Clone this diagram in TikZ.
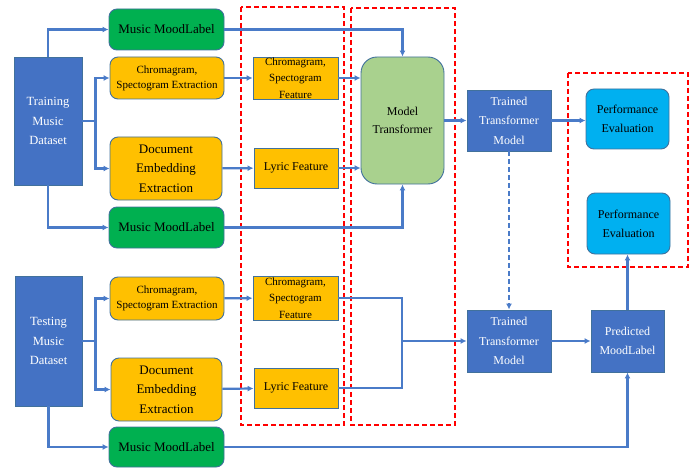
\documentclass[tikz,border=0pt]{standalone}
\usepackage{fontspec}
\setmainfont{Liberation Serif}
\usepackage{xcolor}
\definecolor{dsblue}{HTML}{4472C4}
\definecolor{lnblue}{HTML}{4A7BC8}
\definecolor{edgeblue}{HTML}{41719C}
\definecolor{moodgreen}{HTML}{00B050}
\definecolor{featorange}{HTML}{FFC000}
\definecolor{modelgreen}{HTML}{A9D18E}
\definecolor{evalcyan}{HTML}{00B0F0}
\usetikzlibrary{arrows.meta}

\begin{document}
\begin{tikzpicture}[x=1pt,y=-1pt,
    box/.style={draw=edgeblue,line width=0.9pt,inner sep=0pt,align=center},
    dset/.style={box,fill=dsblue,text=white,font=\fontsize{12.5}{19.5}\selectfont},
    trained/.style={box,fill=dsblue,text=white,font=\fontsize{12}{19.5}\selectfont},
    mood/.style={box,fill=moodgreen,rounded corners=8pt,minimum width=115pt,minimum height=41pt,font=\fontsize{13}{16}\selectfont},
    extr/.style={box,fill=featorange,rounded corners=8pt,minimum width=114pt},
    feat/.style={box,fill=featorange,minimum width=85pt,font=\fontsize{11}{16.5}\selectfont},
    evalbox/.style={box,fill=evalcyan,rounded corners=8pt,minimum width=83pt,minimum height=60pt,font=\fontsize{12}{19}\selectfont},
    conn/.style={lnblue,line width=2.2pt},
    arr/.style={conn,-{Latex[length=6pt,width=6pt]}},
    group/.style={red,line width=2.2pt,dash pattern=on 5pt off 3pt}]
  \useasboundingbox (0,0) rectangle (696,468);

  %% Dashed groups
  \draw[group] (241,7) rectangle (344,425);
  \draw[group] (351,8) rectangle (455,425);
  \draw[group] (568,73) rectangle (688,267);

  %% Training branch
  \node[dset,minimum width=68pt,minimum height=128pt] (train) at (48,121)
    {Training\\Music\\Dataset};
  \node[mood] (moodA) at (166.5,29.5) {Music MoodLabel};
  \node[extr,minimum height=42pt,font=\fontsize{11}{15}\selectfont] (chromA) at (167,78)
    {Chromagram,\\Spectogram Extraction};
  \node[extr,minimum width=112pt,minimum height=63pt,font=\fontsize{13}{19.5}\selectfont] (docA) at (166,168.5)
    {Document\\Embedding\\Extraction};
  \node[mood] (moodB) at (166.5,227.5) {Music MoodLabel};
  \node[feat,minimum height=42pt] (chfA) at (295.5,78)
    {Chromagram,\\Spectogram\\Feature};
  \node[feat,minimum width=84pt,minimum height=40pt,font=\fontsize{12}{14}\selectfont] (lyrA) at (296,168)
    {Lyric Feature};
  \node[box,fill=modelgreen,rounded corners=16pt,minimum width=83pt,minimum height=127pt,
    font=\fontsize{12}{18}\selectfont] (model) at (402.5,120.5) {Model\\Transformer};
  \node[trained,minimum width=84pt,minimum height=61pt] (trainedA) at (509,120.5)
    {Trained\\Transformer\\Model};
  \node[evalbox] (perfA) at (627.5,119) {Performance\\Evaluation};
  \node[evalbox,minimum height=61pt] (perfB) at (628.5,223.5) {Performance\\Evaluation};

  %% Testing branch
  \node[dset,minimum width=67pt,minimum height=130pt] (test) at (48.5,341)
    {Testing\\Music\\Dataset};
  \node[extr,minimum height=43pt,font=\fontsize{11}{15}\selectfont] (chromB) at (167,298.5)
    {Chromagram,\\Spectogram Extraction};
  \node[extr,minimum width=111pt,minimum height=63pt,font=\fontsize{13}{19.5}\selectfont] (docB) at (166.5,389.5)
    {Document\\Embedding\\Extraction};
  \node[mood,minimum height=40pt] (moodC) at (166.5,447) {Music MoodLabel};
  \node[feat,minimum height=44pt] (chfB) at (295.5,298)
    {Chromagram,\\Spectogram\\Feature};
  \node[feat,minimum width=84pt,minimum height=40pt,font=\fontsize{12}{14}\selectfont] (lyrB) at (296,388)
    {Lyric Feature};
  \node[trained,minimum width=84pt,minimum height=62pt] (trainedB) at (509,341)
    {Trained\\Transformer\\Model};
  \node[trained,minimum width=73pt,minimum height=62pt] (pred) at (627.5,341)
    {Predicted\\MoodLabel};

  %% Training connectors
  \draw[arr] (train.north) |- (moodA);
  \draw[arr] (train.south) |- (moodB);
  \draw[conn] (train.east) -- ++(13,0) coordinate (jA);
  \draw[arr] (jA) |- (chromA);
  \draw[arr] (jA) |- (docA);
  \draw[arr] (chromA) -- (chfA);
  \draw[arr] (docA) -- (lyrA);
  \draw[arr] (moodA.east) -| (model.north);
  \draw[arr] (moodB.east) -| (model.south);
  \draw[arr] (chfA.east) -- (chfA.east -| model.west);
  \draw[arr] (lyrA.east) -- (lyrA.east -| model.west);
  \draw[arr] (model) -- (trainedA);
  \draw[arr] (trainedA.east) -- (trainedA.east -| perfA.west);
  \draw[arr,dash pattern=on 5pt off 3pt] (trainedA) -- (trainedB);

  %% Testing connectors
  \draw[arr] (test.south) |- (moodC);
  \draw[conn] (test.east) -- ++(13,0) coordinate (jB);
  \draw[arr] (jB) |- (chromB);
  \draw[arr] (jB) |- (docB);
  \draw[arr] (chromB) -- (chfB);
  \draw[arr] (docB) -- (lyrB);
  \coordinate (jC) at (402,341);
  \draw[conn] (chfB.east) -| (jC);
  \draw[conn] (lyrB.east) -| (jC);
  \draw[arr] (jC) -- (trainedB);
  \draw[arr] (trainedB) -- (pred);
  \draw[arr] (moodC.east) -| (pred.south);
  \draw[arr] (pred.north) -- (pred.north |- perfB.south);
\end{tikzpicture}
\end{document}
